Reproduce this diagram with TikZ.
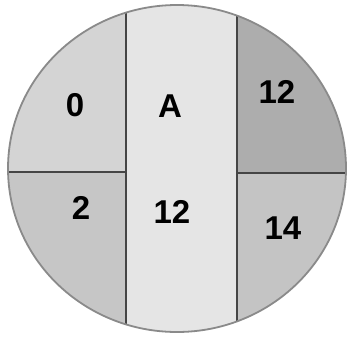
\documentclass[tikz,border=0pt]{standalone}
\usepackage{fontspec}
\setmainfont{Liberation Sans}
\definecolor{ctopleft}{HTML}{D4D4D4}
\definecolor{cbotleft}{HTML}{C6C6C6}
\definecolor{cmid}{HTML}{E5E5E5}
\definecolor{ctopright}{HTML}{ADADAD}
\definecolor{cbotright}{HTML}{C4C4C4}
\definecolor{crim}{HTML}{8A8A8A}
\definecolor{cline}{HTML}{454545}
\tikzset{
  every picture/.style={font=\bfseries\fontsize{33}{36}\selectfont},
  rim/.style={draw=crim, line width=1.8pt},
  split/.style={draw=cline, line width=1.8pt},
  val/.style={inner sep=0pt, text=black},
}
\begin{document}
\begin{tikzpicture}[x=1pt, y=-1pt]
  \useasboundingbox (0,0) rectangle (348,341);
  % disc
  \begin{scope}
    \clip (177,168.5) ellipse [x radius=169, y radius=163.5];
    \fill[ctopleft] (0,0) rectangle (126,172);
    \fill[cbotleft] (0,172) rectangle (126,341);
    \fill[cmid] (126,0) rectangle (237,341);
    \fill[ctopright] (237,0) rectangle (348,173);
    \fill[cbotright] (237,173) rectangle (348,341);
    \draw[split] (126,0) -- (126,341);
    \draw[split] (237,0) -- (237,341);
    \draw[split] (0,172) -- (126,172);
    \draw[split] (237,173) -- (348,173);
  \end{scope}
  \draw[rim] (177,168.5) ellipse [x radius=169, y radius=163.5];
  % labels
  \node[val] (tl) at (75,105) {0};
  \node[val] (ta) at (170,106) {A};
  \node[val] (tr) at (277,92) {12};
  \node[val] (bl) at (81,208) {2};
  \node[val] (bm) at (172,212) {12};
  \node[val] (br) at (283,228) {14};
\end{tikzpicture}
\end{document}
